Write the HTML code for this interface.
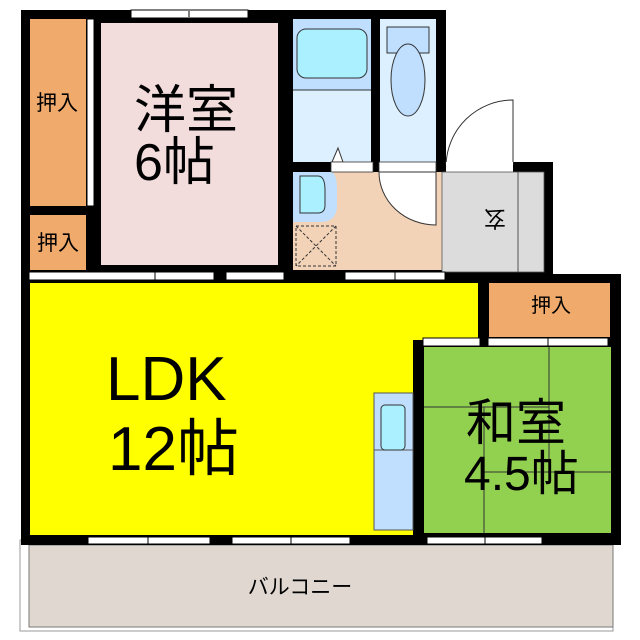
<!DOCTYPE html>
<html><head><meta charset="utf-8"><style>body{margin:0;background:#fff}svg{display:block}text{font-family:"Liberation Sans","Noto Sans CJK JP",sans-serif;fill:#000}</style></head><body>
<svg width="640" height="640" viewBox="0 0 640 640">
<rect x="20" y="540" width="593" height="91" fill="#fff" stroke="#999" stroke-width="1"/>
<rect x="29" y="545" width="584" height="82" fill="#e0d8d0" stroke="#777" stroke-width="1"/>
<text x="300" y="594" font-size="21" text-anchor="middle">バルコニー</text>
<rect x="21" y="10" width="271" height="272" fill="#000"/>
<rect x="282" y="10" width="164" height="162" fill="#000"/>
<rect x="282" y="162" width="271" height="120" fill="#000"/>
<rect x="21" y="274" width="600" height="271" fill="#000"/>
<rect x="131" y="10" width="117" height="8" fill="#fff" stroke="#000" stroke-width="1"/>
<line x1="189" y1="11" x2="189" y2="17" stroke="#000"/>
<rect x="30" y="19" width="56" height="187" fill="#f0aa6c"/>
<rect x="87" y="19" width="7" height="187" fill="#fff" stroke="#000" stroke-width="1"/>
<text x="57" y="110" font-size="21" text-anchor="middle">押入</text>
<rect x="30" y="215" width="56" height="55" fill="#f0aa6c"/>
<text x="58" y="250" font-size="21" text-anchor="middle">押入</text>
<rect x="101" y="23" width="177" height="242" fill="#f2dcdc"/>
<text x="134" y="128" font-size="52">洋室</text>
<text x="134" y="180" font-size="52">6帖</text>
<rect x="293" y="19" width="78" height="71" fill="#c0dfff"/>
<rect x="293" y="90" width="78" height="72" fill="#ddf0ff"/>
<line x1="293" y1="90" x2="371" y2="90" stroke="#333"/>
<rect x="297" y="29" width="70" height="49" rx="9" fill="#aaf0ff" stroke="#333"/>
<polygon points="332,162 338,148 343,162" fill="#fff" stroke="#333"/>
<rect x="380" y="19" width="56" height="143" fill="#ddf0ff"/>
<rect x="387" y="27" width="42" height="26" fill="#c0dfff" stroke="#333"/>
<ellipse cx="408" cy="80" rx="17" ry="36" fill="#c0dfff" stroke="#333"/>
<rect x="446" y="10" width="120" height="152" fill="#fff"/>
<path d="M446,165 A67,67 0 0 1 513,100 L513,165" fill="none" stroke="#333"/>
<rect x="446" y="162" width="67" height="10" fill="#fff"/>
<rect x="293" y="172" width="149" height="98" fill="#f2d3b8"/>
<rect x="331" y="162" width="42" height="10" fill="#fff" stroke="#333" stroke-width="0.8"/>
<rect x="379" y="162" width="57" height="10" fill="#fff" stroke="#333" stroke-width="0.8"/>
<path d="M293,172 H330 Q337,172 337,190 V205 Q337,222 320,222 H293 Z" fill="#c0dfff"/>
<path d="M300,176 H318 Q325,176 325,190 V205 Q325,213 318,213 H300 Z" fill="#aaf0ff" stroke="#333"/>
<rect x="296" y="226" width="40" height="40" fill="none" stroke="#333" stroke-dasharray="3,2"/>
<line x1="296" y1="226" x2="336" y2="266" stroke="#333" stroke-dasharray="3,2"/>
<line x1="336" y1="226" x2="296" y2="266" stroke="#333" stroke-dasharray="3,2"/>
<path d="M379,172 A57,53 0 0 0 436,225 L436,172 Z" fill="#fff" stroke="#333"/>
<rect x="442" y="172" width="102" height="100" fill="#dcdcdc" stroke="#555" stroke-width="0.8"/>
<line x1="518" y1="172" x2="518" y2="272" stroke="#555"/>
<text x="495" y="227" font-size="22" text-anchor="middle" transform="rotate(180 495 219)">玄</text>
<rect x="553" y="162" width="90" height="112" fill="#fff"/>
<rect x="30" y="283" width="448" height="57" fill="#ffff00"/>
<rect x="30" y="283" width="383" height="252" fill="#ffff00"/>
<rect x="29" y="272" width="185" height="8" fill="#fff" stroke="#000"/>
<rect x="226" y="272" width="58" height="8" fill="#fff" stroke="#000"/>
<rect x="345" y="272" width="100" height="8" fill="#fff" stroke="#000"/>
<line x1="155" y1="272" x2="155" y2="280" stroke="#000"/>
<line x1="395" y1="272" x2="395" y2="280" stroke="#000"/>
<text x="106" y="400" font-size="62">LDK</text>
<text x="108" y="470" font-size="62">12帖</text>
<rect x="374" y="393" width="39" height="137" fill="#c0dfff" stroke="#555"/>
<line x1="374" y1="450" x2="413" y2="450" stroke="#555"/>
<rect x="381" y="405" width="24" height="45" rx="4" fill="#aaf0ff" stroke="#333"/>
<rect x="489" y="283" width="121" height="54" fill="#f0aa6c"/>
<text x="551" y="312" font-size="20" text-anchor="middle">押入</text>
<rect x="423" y="338" width="57" height="8" fill="#fff" stroke="#000"/>
<rect x="488" y="338" width="120" height="8" fill="#fff" stroke="#000"/>
<line x1="548" y1="338" x2="548" y2="346" stroke="#000"/>
<rect x="424" y="347" width="187" height="186" fill="#92d050"/>
<g stroke="#333" stroke-width="1">
<line x1="549" y1="347" x2="549" y2="472"/>
<line x1="424" y1="407" x2="549" y2="407"/>
<line x1="484" y1="407" x2="484" y2="533"/>
<line x1="484" y1="472" x2="611" y2="472"/>
</g>
<text x="466" y="440" font-size="50">和室</text>
<text x="464" y="490" font-size="48">4.5帖</text>
<rect x="88" y="537" width="122" height="7" fill="#fff" stroke="#000"/>
<rect x="232" y="537" width="118" height="7" fill="#fff" stroke="#000"/>
<rect x="427" y="537" width="115" height="7" fill="#fff" stroke="#000"/>
<g stroke="#000"><line x1="148" y1="537" x2="148" y2="544"/><line x1="291" y1="537" x2="291" y2="544"/><line x1="485" y1="537" x2="485" y2="544"/></g>
</svg>
</body></html>
